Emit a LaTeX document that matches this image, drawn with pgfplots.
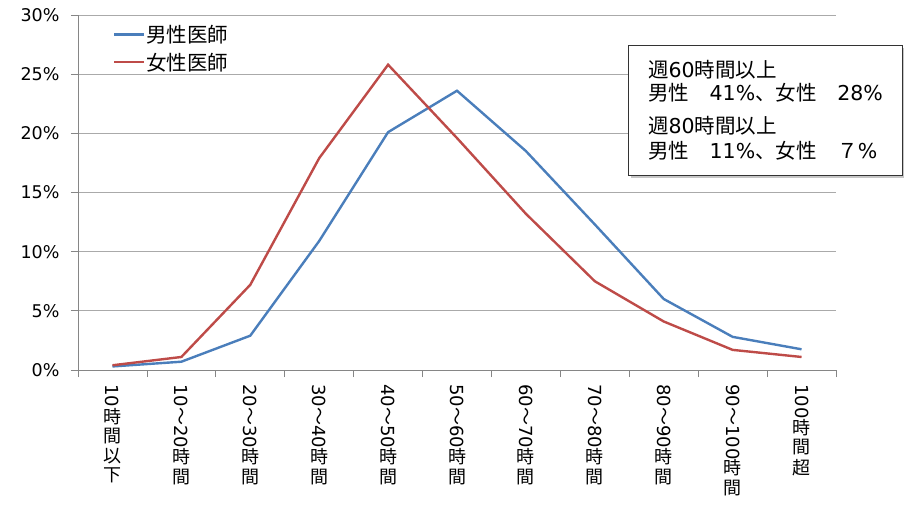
\documentclass[border=0pt]{standalone}
\usepackage{pgfplots}
\pgfplotsset{compat=1.18}
\usepackage{graphicx}
\usepackage{fontspec}
\setmainfont{DejaVu Sans}
\newfontfamily\jp{Noto Sans CJK JP}
\usetikzlibrary{shadows}

\definecolor{maleblue}{RGB}{74,126,187}
\definecolor{femalered}{RGB}{190,75,72}
\definecolor{axgray}{RGB}{134,134,134}
\definecolor{gridgray}{RGB}{170,170,170}

% vertical category label: sideways numbers on top, upright kanji stacked below
\newcommand{\vlab}[2]{{\jp\renewcommand\arraystretch{1}%
  \begin{tabular}{@{}c@{}}\rotatebox[origin=c]{-90}{\rmfamily #1}\\#2\end{tabular}}}

% share of doctors by weekly working hours (%)
\pgfplotstableread{
x male female
0  0.3  0.4
1  0.7  1.1
2  2.9  7.2
3  10.9 17.9
4  20.1 25.8
5  23.6 19.6
6  18.5 13.2
7  12.3 7.5
8  6.0  4.1
9  2.8  1.7
10 1.75 1.1
}\hours

\begin{document}
\begin{tikzpicture}
\path[use as bounding box] (-78pt,-135pt) rectangle (826pt,370pt);
\begin{axis}[
  name=ax,
  at={(0,0)}, anchor=south west,
  scale only axis,
  width=758pt, height=355pt,
  xmin=-0.5, xmax=10.5,
  ymin=0, ymax=30,
  axis x line*=bottom, axis y line*=left,
  axis line style={-, draw=axgray, line width=0.8pt},
  xtick={0,...,10},
  minor xtick={-0.5,0.5,...,10.5},
  every major x tick/.append style={draw=none},
  every minor x tick/.append style={draw=axgray, line width=0.8pt},
  ytick={0,5,...,30},
  every major y tick/.append style={draw=axgray, line width=0.8pt},
  major tick length=7pt, minor tick length=7pt,
  tick align=outside,
  ymajorgrids,
  grid style={draw=gridgray, line width=0.8pt},
  yticklabels={0\%,5\%,10\%,15\%,20\%,25\%,30\%},
  yticklabel style={font=\fontsize{17.5}{20}\selectfont, xshift=-8pt},
  xticklabels={
    {\vlab{10}{時\\間\\以\\下}},
    {\vlab{10{\jp ～}20}{時\\間}},
    {\vlab{20{\jp ～}30}{時\\間}},
    {\vlab{30{\jp ～}40}{時\\間}},
    {\vlab{40{\jp ～}50}{時\\間}},
    {\vlab{50{\jp ～}60}{時\\間}},
    {\vlab{60{\jp ～}70}{時\\間}},
    {\vlab{70{\jp ～}80}{時\\間}},
    {\vlab{80{\jp ～}90}{時\\間}},
    {\vlab{90{\jp ～}100}{時\\間}},
    {\vlab{100}{時\\間\\超}}},
  xticklabel style={font=\fontsize{18}{18}\selectfont, anchor=north, yshift=-4pt},
  legend image code/.code={\draw[#1] (0pt,0pt) -- (30pt,0pt);},
  legend style={at={(0.046,0.975)}, anchor=north west, draw=none, fill=none,
    font=\jp\fontsize{20.5}{24}\selectfont, inner sep=0pt,
    nodes={inner sep=1pt}, row sep=7pt},
  legend cell align=left,
]
\addplot[maleblue, line width=2.4pt] table[x=x, y=male] {\hours};
\addlegendentry{男性医師}
\addplot[femalered, line width=2.4pt] table[x=x, y=female] {\hours};
\addlegendentry{女性医師}
\end{axis}
\begin{scope}[shift={(ax.south west)}]
  \fill[white, drop shadow={shadow xshift=3pt, shadow yshift=-3pt, opacity=0.45}]
    (550pt,195pt) rectangle (824pt,325pt);
  \draw[black!80, line width=0.8pt] (550pt,195pt) rectangle (824pt,325pt);
  \begin{scope}[every node/.style={anchor=west, inner sep=0pt, font=\fontsize{20.5}{24}\selectfont}]
    \node at (570pt,300pt) {{\jp 週}60{\jp 時間以上}};
    \node at (570pt,277pt) {{\jp 男性　}41\%{\jp 、女性　}28\%};
    \node at (570pt,244pt) {{\jp 週}80{\jp 時間以上}};
    \node at (570pt,219pt) {{\jp 男性　}11\%{\jp 、女性　７}\%};
  \end{scope}
\end{scope}
\end{tikzpicture}
\end{document}
